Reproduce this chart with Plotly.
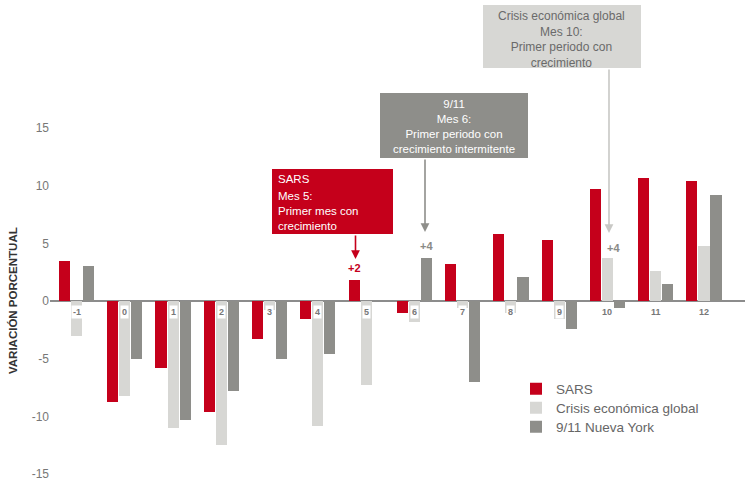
import plotly.graph_objects as go

# ---- data ----
categories = [-1, 0, 1, 2, 3, 4, 5, 6, 7, 8, 9, 10, 11, 12]
sars = [3.5, -8.8, -5.8, -9.6, -3.3, -1.6, 1.8, -1.0, 3.2, 5.8, 5.3, 9.7, 10.7, 10.4]
crisis = [-3.0, -8.2, -11.0, -12.5, -0.8, -10.8, -7.3, -1.8, -0.6, -1.0, -1.6, 3.7, 2.6, 4.8]
nyc = [3.0, -5.0, -10.3, -7.8, -5.0, -4.6, 0.0, 3.7, -7.0, 2.1, -2.4, -0.6, 1.5, 9.2]
series_names = ["SARS", "Crisis económica global", "9/11 Nueva York"]
y_ticks = [-15, -10, -5, 0, 5, 10, 15]

RED = "#c5001b"
LIGHT = "#d7d7d4"
GREY = "#8e8e8a"
FONT = "Liberation Sans, Arial, sans-serif"

W, H = 747, 483
ML, MR = 50, 2
X0, X1 = -1.55, 12.85
PW = W - ML - MR
PXU = PW / (X1 - X0)
ZERO_PX = 301
PYU = 11.53
Y1 = ZERO_PX / PYU
Y0 = -(H - ZERO_PX) / PYU


def X(px):
    return (px - ML) / PXU + X0


def Y(py):
    return (ZERO_PX - py) / PYU


bw = 0.23
off = 0.25
legend_ids = ["legend", "legend2", "legend3"]
fig = go.Figure()
for vals, name, col, o, lg in [(sars, series_names[0], RED, -off, legend_ids[0]),
                               (crisis, series_names[1], LIGHT, 0.0, legend_ids[1]),
                               (nyc, series_names[2], GREY, off, legend_ids[2])]:
    fig.add_trace(go.Bar(x=[c + o for c in categories], y=vals, name=name, legend=lg,
                         marker=dict(color=col, line=dict(width=0)), width=bw))

ann = []
# category label boxes on the zero line
for c in categories:
    ann.append(dict(x=c, y=Y(312), xref="x", yref="y", text="<b>%d</b>" % c,
                    showarrow=False, bgcolor="white", borderpad=1,
                    font=dict(size=9, color="#777777", family=FONT)))

# value labels
ann.append(dict(x=5 - off, y=Y(268), text="<b>+2</b>", showarrow=False,
                font=dict(size=11, color=RED, family=FONT)))
ann.append(dict(x=6 + off, y=Y(246), text="<b>+4</b>", showarrow=False,
                font=dict(size=11, color="#8a8a86", family=FONT)))
ann.append(dict(x=X(613), y=Y(248), text="<b>+4</b>", showarrow=False,
                font=dict(size=11, color="#8a8a86", family=FONT)))

# arrows
for xp, y_from, y_to, col in [(355.5, 234, 259, RED), (425, 158, 232, GREY), (609, 68, 233, "#c8c8c5")]:
    ann.append(dict(x=X(xp), y=Y(y_to), ax=X(xp), ay=Y(y_from), xref="x", yref="y",
                    axref="x", ayref="y", text="", showarrow=True, arrowhead=2,
                    arrowsize=1.1, arrowwidth=1.6, arrowcolor=col))

shapes = []
# boxes
for (x_a, y_a, x_b, y_b, col) in [(272, 169, 393, 234, RED), (380, 93, 528, 158, GREY), (483, 5, 641, 68, LIGHT)]:
    shapes.append(dict(type="rect", xref="x", yref="y", x0=X(x_a), x1=X(x_b), y0=Y(y_b), y1=Y(y_a),
                       fillcolor=col, line=dict(width=0), layer="above"))

ann.append(dict(x=X(276), y=Y(179), xanchor="left", yanchor="middle", showarrow=False, align="left",
                text="SARS", font=dict(size=11.5, color="white", family=FONT)))
ann.append(dict(x=X(276), y=Y(211), xanchor="left", yanchor="middle", showarrow=False, align="left",
                text="Mes 5:<br>Primer mes con<br>crecimiento",
                font=dict(size=11.5, color="white", family=FONT)))
ann.append(dict(x=X(454), y=Y(126), showarrow=False, align="center",
                text="9/11<br>Mes 6:<br>Primer periodo con<br>crecimiento intermitente",
                font=dict(size=11.5, color="white", family=FONT)))
ann.append(dict(x=X(561), y=Y(39), showarrow=False, align="center",
                text="Crisis económica global<br>Mes 10:<br>Primer periodo con<br>crecimiento",
                font=dict(size=12, color="#6a6a6a", family=FONT)))

# y-axis title
ann.append(dict(x=(13 - ML) / PW, y=1 - 301 / H, xref="paper", yref="paper", showarrow=False,
                textangle=-90, xanchor="center", yanchor="middle",
                text="<b>VARIACIÓN PORCENTUAL</b>", font=dict(size=11.5, color="#333333", family=FONT)))

legend_rows = [389, 408, 427]
legends = {}
for lg, row in zip(legend_ids, legend_rows):
    legends[lg] = dict(x=(516 - ML) / PW, y=1 - row / H, xanchor="left", yanchor="middle",
                       font=dict(size=13.5, color="#666666"), bgcolor="rgba(0,0,0,0)",
                       borderwidth=0)

fig.update_layout(
    width=W, height=H, margin=dict(l=ML, r=MR, t=0, b=0),
    paper_bgcolor="white", plot_bgcolor="white",
    barmode="overlay", bargap=0,
    font=dict(family=FONT, color="#666666"),
    xaxis=dict(range=[X0, X1], showgrid=False, zeroline=False, showticklabels=False, showline=False),
    yaxis=dict(range=[Y0, Y1], tickvals=y_ticks, ticktext=[str(v) for v in y_ticks],
               showgrid=False, zeroline=True, zerolinecolor="#8c8c8c", zerolinewidth=1.5,
               tickfont=dict(size=12, color="#777777"), ticks="", ticklen=0, showline=False),
    annotations=ann, shapes=shapes, showlegend=True,
    **legends,
)

fig.write_html("out.html")
